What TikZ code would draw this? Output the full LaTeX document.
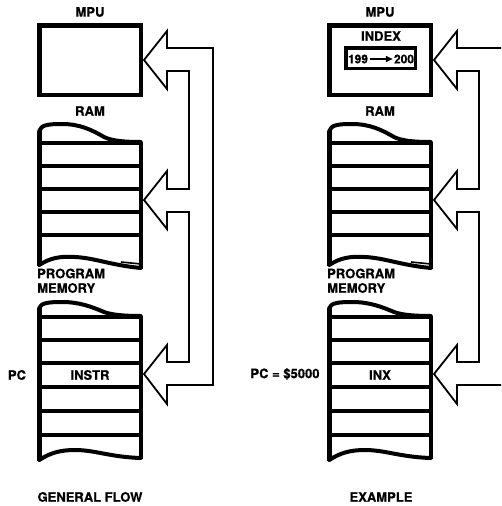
\documentclass[tikz,border=0pt]{standalone}
\usepackage{fontspec}
\setmainfont{TeX Gyre Heros}[BoldFeatures={FakeBold=0.5}]
\usetikzlibrary{arrows.meta}
\tikzset{
  lbl/.style={font=\fontsize{13}{15}\selectfont\bfseries, inner sep=0pt},
  numlbl/.style={font=\fontsize{12}{14}\selectfont\bfseries, inner sep=0pt},
  mpubox/.style={draw, line width=4.5pt, minimum width=101.5pt, minimum height=69.5pt, inner sep=0pt},
  regbox/.style={draw, line width=3.5pt, minimum width=69.5pt, minimum height=20.5pt, inner sep=0pt},
  sideline/.style={line width=4.5pt},
  sepline/.style={line width=3.5pt},
  capline/.style={line width=4pt, line cap=round, line join=round},
  band/.style={line width=1.8pt, line join=miter},
  smallarrow/.style={line width=1.4pt, -{Triangle[length=7pt,width=6pt]}},
}
\newcommand\mycolumn{%
  % RAM stack
  \draw[sideline] (39.25,266) -- (39.25,131);
  \draw[sideline] (140.75,142) -- (140.75,269);
  \draw[capline] (39.25,131) .. controls (41,125) and (48,124) .. (62,124)
     .. controls (80,124) and (92,130) .. (104,137)
     .. controls (112,141) and (125,142) .. (140.75,142);
  \foreach \yy in {143,166,189,212,235} \draw[sepline] (39,\yy) -- (141,\yy);
  \draw[capline] (39.25,265) .. controls (50,258) and (60,256) .. (75,257)
     .. controls (95,258) and (110,265) .. (140.75,268);
  \draw[line width=1.6pt] (121,262) -- (141,264);
  % Program memory stack
  \draw[sideline] (39.25,461) -- (39.25,308);
  \draw[sideline] (140.75,316) -- (140.75,459);
  \draw[capline] (39.25,308) .. controls (41,303) and (48,302) .. (62,302)
     .. controls (80,302) and (92,307) .. (104,312)
     .. controls (112,315) and (125,316) .. (140.75,316);
  \foreach \yy in {317,340,363,387,411,435} \draw[sepline] (39,\yy) -- (141,\yy);
  \draw[capline] (39.25,460) .. controls (50,453) and (60,450) .. (75,450)
     .. controls (95,450) and (110,457) .. (140.75,458);
  % hollow arrow band
  \draw[band] (167,48) -- (213,48) -- (213,385) -- (167,385) -- (167,404)
     -- (144,374) -- (167,345) -- (167,362) -- (189,362) -- (189,212)
     -- (167,212) -- (167,229) -- (144,200) -- (167,171) -- (167,189)
     -- (189,189) -- (189,71) -- (167,71) -- (167,89) -- (144,60)
     -- (167,31) -- cycle;
}
\begin{document}
\begin{tikzpicture}[x=1pt,y=-1pt]
\useasboundingbox (0,0) rectangle (501,506);
\clip (0,0) rectangle (501,506);

% ---------- left column: general flow ----------
\node[mpubox] (mpuL) at (90,60) {};
\node[lbl] (mpuLlbl) at (90,12) {MPU};
\node[lbl] (ramLlbl) at (90,111) {RAM};
\node[lbl, anchor=west] (progL1) at (37,273.5) {PROGRAM};
\node[lbl, anchor=west] (progL2) at (37,288) {MEMORY};
\mycolumn
\node[lbl] (pcL) at (17,375) {PC};
\node[lbl] (instr) at (90,375) {INSTR};
\node[lbl] (genflow) at (90,497) {GENERAL FLOW};

% ---------- right column: example ----------
\node[mpubox] (mpuR) at (380,60) {};
\node[lbl] (mpuRlbl) at (380,12) {MPU};
\node[lbl] (index) at (381,36) {INDEX};
\node[regbox] (reg) at (380.5,58) {};
\node[numlbl] (n199) at (358,59) {199};
\node[numlbl] (n200) at (404,59) {200};
\draw[smallarrow] ([xshift=1.5pt]n199.east) -- ([xshift=-1pt]n200.west);
\node[lbl] (ramRlbl) at (380,111) {RAM};
\node[lbl, anchor=west] (progR1) at (327,273.5) {PROGRAM};
\node[lbl, anchor=west] (progR2) at (327,288) {MEMORY};
\begin{scope}[xshift=290pt]
\mycolumn
\end{scope}
\node[lbl] (pcR) at (285,374) {PC = \$5000};
\node[lbl] (inx) at (380,375) {INX};
\node[lbl] (example) at (381,497) {EXAMPLE};
\end{tikzpicture}
\end{document}
